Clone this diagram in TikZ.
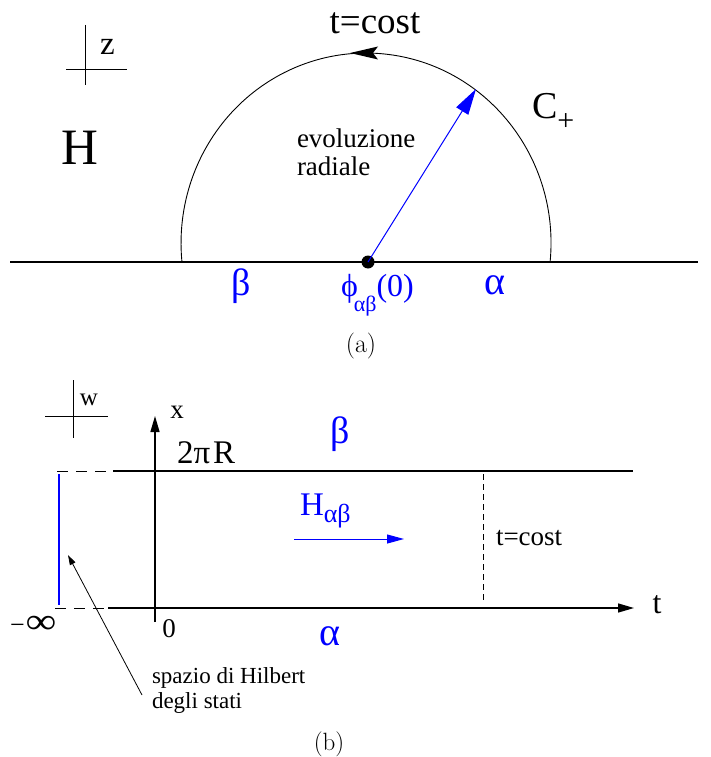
\documentclass[tikz,border=0pt]{standalone}
\usepackage{fontspec}
\newfontfamily\tms{Liberation Serif}
\usetikzlibrary{arrows.meta}
\definecolor{fblue}{RGB}{0,0,255}
\newcommand{\myfs}[1]{\fontsize{#1pt}{#1pt}\selectfont}
\tikzset{
  lbl/.style={inner sep=0pt, outer sep=0pt, font=\tms},
  bl/.style={lbl, text=fblue},
  axis/.style={line width=1.4pt},
  thinln/.style={line width=0.9pt},
  bigtip/.style={-{Triangle[length=16pt,width=9pt]}},
}
\begin{document}
\begin{tikzpicture}[x=1pt,y=-1pt]
\useasboundingbox (0,0) rectangle (711,757);
% ---------- (a) ----------
\coordinate (la) at (10,262);
\coordinate (ra) at (698,262);
\draw[axis] (la) -- (ra);
\coordinate (arcstart) at (550.1,261.9);
\draw[thinln] (arcstart) arc[start angle=5.7, end angle=-185.7, x radius=185, y radius=190];
\fill (350,53) -- (378,46.5) -- (373,53) -- (378,59.5) -- cycle;
\node[circle, fill=black, inner sep=0pt, minimum size=13pt] (dot) at (368,262) {};
\coordinate (rtip) at (476,89);
\draw[fblue, line width=1pt, -{Triangle[length=26pt,width=14pt]}] (dot.center) -- (rtip);
% z cross
\coordinate (za) at (85,25); \coordinate (zb) at (85,85);
\coordinate (zc) at (66,69); \coordinate (zd) at (127,69);
\draw[thinln] (za) -- (zb) (zc) -- (zd);
\node[lbl, anchor=base west, font=\tms\myfs{33}] (zlab) at (100,55) {z};
\node[lbl, anchor=base, font=\tms\myfs{51}] (Hlab) at (80,164) {H};
\node[lbl, anchor=base, font=\tms\myfs{37}] (tcost) at (375,34) {t=cost};
\node[lbl, anchor=base west, font=\tms\myfs{38}] (Cp) at (532,118) {C\raisebox{-13pt}{\myfs{30}+}};
\node[lbl, anchor=base west, font=\tms\myfs{27}] (evo) at (297,147) {evoluzione};
\node[lbl, anchor=base west, font=\tms\myfs{27}] (rad) at (297,175) {radiale};
\node[bl, anchor=base, font=\tms\myfs{38}] (betaA) at (241,295) {β};
\node[bl, anchor=base, font=\tms\myfs{40}] (alphaA) at (495,294) {α};
\node[bl, anchor=base west, font=\tms\myfs{32}] (phi) at (341,296) {ϕ\kern-4pt\raisebox{-15pt}{\myfs{22}αβ}(0)};
\node[lbl, anchor=base, font=\rmfamily\myfs{26}] (capa) at (361,352) {(a)};
% ---------- (b) ----------
\coordinate (wa) at (73,380); \coordinate (wb) at (73,438);
\coordinate (wc) at (45,416); \coordinate (wd) at (108,416);
\draw[thinln] (wa) -- (wb) (wc) -- (wd);
\node[lbl, anchor=base, font=\tms\myfs{25}] (wlab) at (89,405) {w};
% x axis
\coordinate (xb) at (155,622); \coordinate (xt) at (155,416);
\draw[axis, bigtip] (xb) -- (xt);
\node[lbl, anchor=base, font=\tms\myfs{27}] (xlab) at (177,418) {x};
% top line
\coordinate (t0) at (57,471); \coordinate (t1) at (113,471); \coordinate (t2) at (633,471);
\draw[thinln, dash pattern=on 11pt off 8pt] (t0) -- (t1);
\draw[axis] (t1) -- (t2);
% bottom line
\coordinate (b0) at (55,608); \coordinate (b1) at (108,608); \coordinate (b2) at (634,608);
\draw[thinln, dash pattern=on 11pt off 8pt] (b0) -- (b1);
\draw[axis, bigtip] (b1) -- (b2);
\node[lbl, anchor=base, font=\tms\myfs{32}] (tlab) at (657,613) {t};
% blue state line
\coordinate (s0) at (59,474); \coordinate (s1) at (59,605);
\draw[fblue, line width=1.6pt] (s0) -- (s1);
% t=cost dashed
\coordinate (d0) at (483,474); \coordinate (d1) at (483,601);
\draw[line width=0.9pt, dash pattern=on 6pt off 4pt] (d0) -- (d1);
\node[lbl, anchor=base west, font=\tms\myfs{27}] (tcost2) at (496,545) {t=cost};
% H arrow
\coordinate (h0) at (294,539); \coordinate (h1) at (404,539);
\draw[fblue, line width=1pt, -{Triangle[length=17pt,width=9pt]}] (h0) -- (h1);
\node[bl, anchor=base west, font=\tms\myfs{33}] (Hab) at (300,515) {H\raisebox{-7pt}{\myfs{26}αβ}};
\node[lbl, anchor=base west, font=\tms\myfs{33}] (twopiR) at (177,463) {2π\kern3pt R};
\node[bl, anchor=base, font=\tms\myfs{38}] (betaB) at (340,443) {β};
\node[bl, anchor=base, font=\tms\myfs{40}] (alphaB) at (330,645) {α};
\node[lbl, anchor=base, font=\tms\myfs{27}] (zero) at (169,637) {0};
\node[lbl, anchor=base west, font=\tms\myfs{36}] (minf) at (10,633) {{\myfs{26}−}\kern1pt\scalebox{1.2}[1]{∞}};
% Hilbert label and arrow
\node[lbl, anchor=base west, font=\tms\myfs{23}] (sp1) at (152,683) {spazio di Hilbert};
\node[lbl, anchor=base west, font=\tms\myfs{23}] (sp2) at (152,708) {degli stati};
\coordinate (ar0) at (142,695); \coordinate (ar1) at (68,555);
\draw[line width=0.8pt, -{Triangle[length=10pt,width=6pt]}] (ar0) -- (ar1);
\node[lbl, anchor=base, font=\rmfamily\myfs{25}] (capb) at (329,750) {(b)};
\end{tikzpicture}
\end{document}
